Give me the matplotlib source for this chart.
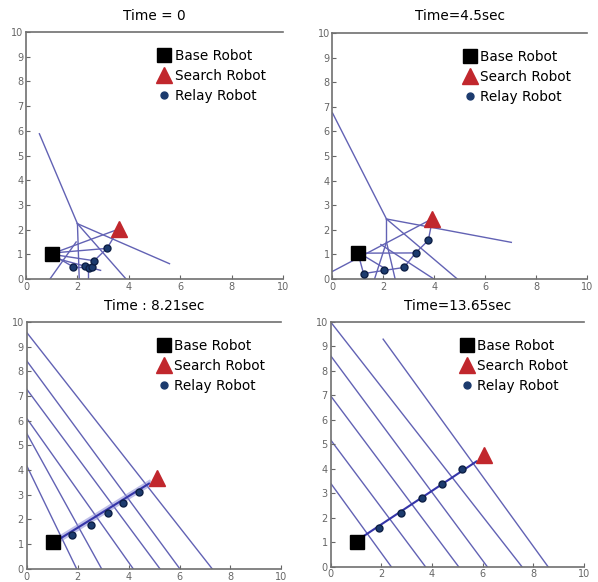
import matplotlib
matplotlib.use('Agg')
import matplotlib.pyplot as plt
from matplotlib.lines import Line2D

# Titles of the four snapshots
titles = ['Time = 0', 'Time=4.5sec', 'Time : 8.21sec', 'Time=13.65sec']

# Base robot (x, y) per snapshot
base_x = [1.0, 1.0, 1.05, 1.05]
base_y = [1.02, 1.05, 1.07, 1.02]

# Search robot (x, y) per snapshot
search_x = [3.6, 3.9, 5.1, 6.05]
search_y = [2.02, 2.44, 3.67, 4.55]

# Relay robots per snapshot
relay_x = [
    [1.82, 2.3, 2.45, 2.55, 2.65, 3.15],
    [1.22, 2.03, 2.81, 3.26, 3.76],
    [1.78, 2.51, 3.18, 3.79, 4.41],
    [1.91, 2.78, 3.62, 4.38, 5.2],
]
relay_y = [
    [0.5, 0.52, 0.45, 0.5, 0.74, 1.24],
    [0.22, 0.35, 0.47, 1.06, 1.57],
    [1.37, 1.77, 2.25, 2.68, 3.1],
    [1.6, 2.21, 2.82, 3.38, 4.0],
]

# Voronoi / link edges per snapshot: (x0, y0, x1, y1)
edges = [
    [(0.52, 5.88, 2.0, 2.24), (2.0, 2.24, 5.58, 0.62), (2.0, 2.24, 2.07, 0.0),
     (2.0, 2.24, 3.89, 0.0), (0.93, 0.0, 1.95, 1.5), (2.4, 0.0, 2.4, 0.5),
     (1.0, 1.02, 3.6, 2.02), (1.0, 1.05, 3.15, 1.24), (1.0, 1.0, 2.65, 0.74),
     (1.0, 1.0, 1.82, 0.5), (1.82, 0.5, 2.55, 0.5), (2.55, 0.5, 2.65, 0.74),
     (2.65, 0.74, 3.15, 1.24), (3.15, 1.24, 3.6, 2.02), (1.3, 0.8, 2.9, 0.35)],
    [(0.0, 6.75, 2.12, 2.44), (2.12, 2.44, 7.02, 1.49), (2.12, 2.44, 2.12, 1.5),
     (2.12, 2.44, 4.9, 0.0), (0.0, 0.31, 3.9, 2.44), (1.0, 1.05, 3.26, 1.06),
     (2.12, 1.5, 1.65, 0.0), (2.12, 1.5, 2.46, 0.0), (1.9, 1.4, 3.98, 0.0),
     (1.0, 1.05, 1.22, 0.22), (1.22, 0.22, 2.03, 0.35), (2.03, 0.35, 2.81, 0.47),
     (2.81, 0.47, 3.26, 1.06), (3.26, 1.06, 3.76, 1.57), (3.76, 1.57, 3.9, 2.3),
     (1.3, 0.9, 2.1, 0.4)],
    [(0.0, 4.18, 1.96, 0.0), (0.0, 5.49, 2.94, 0.0), (0.0, 6.1, 4.18, 0.0),
     (0.0, 7.28, 5.23, 0.0), (0.0, 8.43, 6.01, 0.0), (0.0, 9.58, 7.28, 0.0)],
    [(0.0, 3.41, 2.39, 0.0), (0.0, 5.18, 3.74, 0.0), (0.0, 6.98, 5.05, 0.0),
     (0.0, 8.62, 6.18, 0.0), (0.0, 10.0, 7.55, 0.0), (2.07, 9.3, 8.58, 0.0)],
]

# Relay chain line (base side -> search side) per snapshot, None if absent
chain = [None, None, (1.2, 1.15, 4.8, 3.45), (1.3, 1.25, 5.75, 4.3)]

# axes boxes [left, bottom, width, height] in figure fraction
boxes = [
    [0.0435, 0.5206, 0.430, 0.4244],
    [0.556, 0.5206, 0.426, 0.4227],
    [0.0446, 0.0228, 0.426, 0.4239],
    [0.553, 0.0263, 0.4236, 0.4204],
]

line_col = '#6262b4'
fig = plt.figure(figsize=(5.98, 5.82), dpi=100)
for i in range(4):
    ax = fig.add_axes(boxes[i])
    for x0, y0, x1, y1 in edges[i]:
        ax.plot([x0, x1], [y0, y1], color=line_col, lw=1.0, zorder=1)
    if chain[i] is not None:
        x0, y0, x1, y1 = chain[i]
        if i == 2:
            ax.plot([x0, x1], [y0, y1], color='#8c8cd8', lw=4.5, alpha=0.55, zorder=1)
        ax.plot([x0, x1], [y0, y1], color='#3535a8', lw=1.5, zorder=2)
    ax.plot(base_x[i], base_y[i], 's', color='black', ms=10, zorder=3)
    ax.plot(search_x[i], search_y[i], '^', color='#c1272d', ms=12, zorder=3)
    ax.plot(relay_x[i], relay_y[i], 'o', color='#1c3b6e', mec='#0d1f45', ms=5, zorder=3)
    ax.set_xlim(0, 10)
    ax.set_ylim(0, 10)
    ax.set_xticks(range(0, 11, 2))
    ax.set_yticks(range(0, 11))
    ax.tick_params(direction='in', length=3, labelsize=7, colors='#666666', pad=2)
    for s in ['left', 'bottom', 'top']:
        ax.spines[s].set_color('#707070')
        ax.spines[s].set_linewidth(1.2)
    ax.spines['right'].set_visible(False)
    ax.set_title(titles[i], fontsize=9.8, pad=9)

    handles = [
        Line2D([], [], marker='s', color='black', ls='', ms=10),
        Line2D([], [], marker='^', color='#c1272d', ls='', ms=12),
        Line2D([], [], marker='o', color='#1c3b6e', ls='', ms=5),
    ]
    ax.legend(handles, ['Base Robot', 'Search Robot', 'Relay Robot'],
              loc='upper left', bbox_to_anchor=(0.485, 0.96), frameon=False,
              fontsize=9.8, handlelength=1.0, handletextpad=0.25, labelspacing=0.45,
              borderpad=0)

fig.savefig('out.png', dpi=100)
